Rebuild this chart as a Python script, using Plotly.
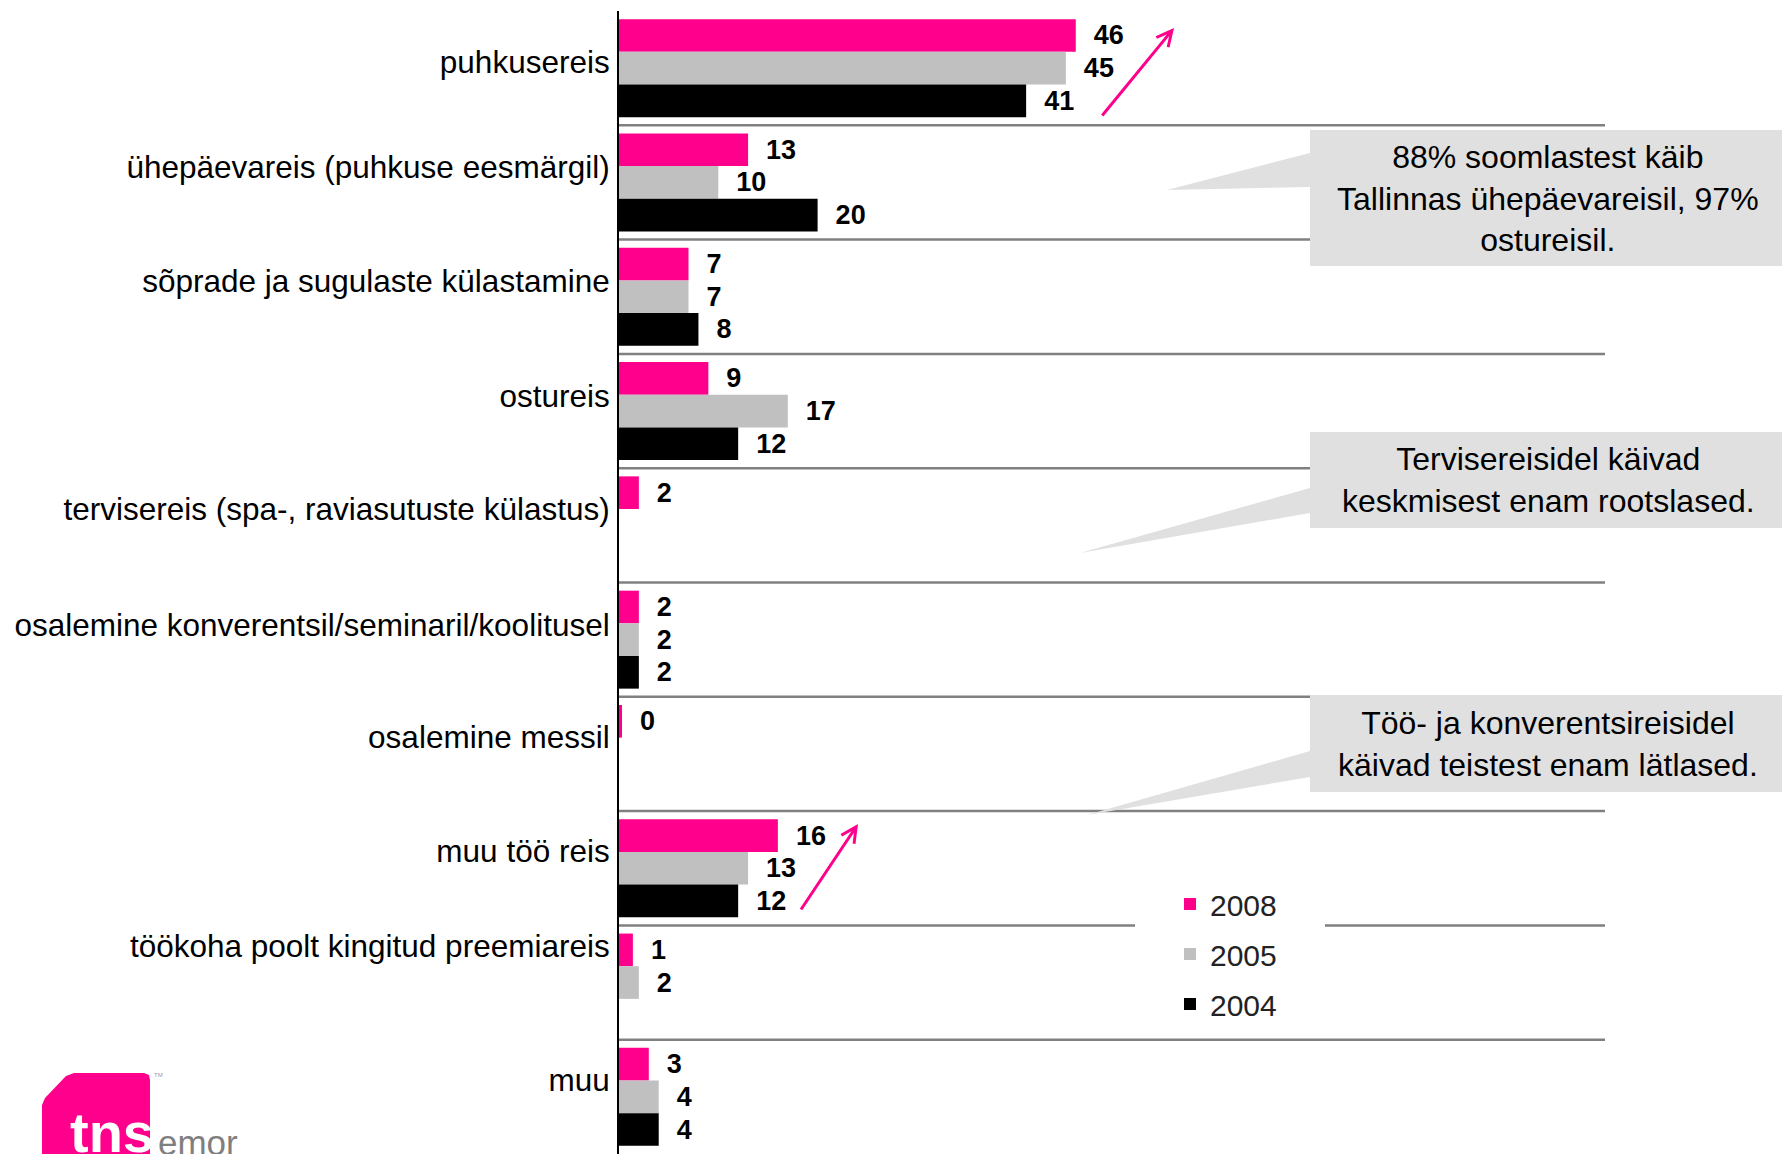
import plotly.graph_objects as go

# reisi eesmärk, % vastanutest
categories = [
    "puhkusereis",
    "ühepäevareis (puhkuse eesmärgil)",
    "sõprade ja sugulaste külastamine",
    "ostureis",
    "tervisereis (spa-, raviasutuste külastus)",
    "osalemine konverentsil/seminaril/koolitusel",
    "osalemine messil",
    "muu töö reis",
    "töökoha poolt kingitud preemiareis",
    "muu",
]
v2008 = [46, 13, 7, 9, 2, 2, 0.3, 16, 1.4, 3]
v2005 = [45, 10, 7, 17, None, 2, None, 13, 2, 4]
v2004 = [41, 20, 8, 12, None, 2, None, 12, None, 4]
years = ["2008", "2005", "2004"]
series = [v2008, v2005, v2004]
colors = ["#FF008C", "#C0C0C0", "#000000"]

notes = [
    "88% soomlastest käib<br>Tallinnas ühepäevareisil, 97%<br>ostureisil.",
    "Tervisereisidel käivad<br>keskmisest enam rootslased.",
    "Töö- ja konverentsireisidel<br>käivad teistest enam lätlased.",
]

W, H = 1782, 1154
LEFT, RIGHT, TOP, BOTTOM = 619, 1612, 11, 1154       # plot area in page pixels
ML, MR, MT, MB = LEFT, W - RIGHT, TOP, H - BOTTOM
PW = RIGHT - LEFT
PH = BOTTOM - TOP
pitch = PH / len(categories)

FONT = "Liberation Sans, Arial, sans-serif"
PINK = "#FF008C"


def px(x):
    return (x - LEFT) / PW


def py(y):
    return (BOTTOM - y) / PH


def path(points):
    return "M" + " L".join(f"{px(x):.5f},{py(y):.5f}" for x, y in points) + " Z"


# labels sit a little above the middle of each group (as in the original slide)
label_lift = [6, 15, 16, 15, 16, 15, 17, 17, 37, 17]
tickvals = [i - label_lift[i] / pitch for i in range(len(categories))]

fig = go.Figure()
for name, vals, col in zip(years, series, colors):
    fig.add_trace(go.Bar(
        y=list(range(len(categories))), x=vals, orientation="h",
        name=name, legendgroup=name, marker=dict(color=col, line_width=0),
        texttemplate="\u00a0\u00a0%{x:.0f}", textposition="outside",
        textfont=dict(family=FONT, size=27, color="black", weight="bold"),
        constraintext="none", cliponaxis=False,
    ))

shapes = []
# separators between the categories
for i in range(len(categories) - 1):
    shapes.append(dict(type="line", xref="paper", yref="y", x0=0, x1=px(1605),
                       y0=i + 0.5, y1=i + 0.5, line=dict(color="#808080", width=2.5),
                       layer="below"))
# gap in the separator behind the legend
shapes.append(dict(type="rect", xref="paper", yref="paper", x0=px(1135), x1=px(1325),
                   y0=py(960), y1=py(900), fillcolor="white", line_width=0, layer="above"))

# callouts: box + wedge pointing left
callouts = [
    [(1310, 130), (1790, 130), (1790, 266), (1310, 266), (1310, 187), (1167, 190), (1310, 153)],
    [(1310, 432), (1790, 432), (1790, 528), (1310, 528), (1310, 513), (1080, 553), (1310, 488)],
    [(1310, 695), (1790, 695), (1790, 792), (1310, 792), (1310, 777), (1087, 815), (1310, 751)],
]
for pts in callouts:
    shapes.append(dict(type="path", xref="paper", yref="paper", path=path(pts),
                       fillcolor="#E0E0E0", line_width=0, layer="above"))

# logo
logo = [(42, 1170), (42, 1105), (45, 1098), (66, 1076), (74, 1073), (144, 1073),
        (149, 1075), (150, 1080), (150, 1170)]
shapes.append(dict(type="path", xref="paper", yref="paper", path=path(logo),
                   fillcolor=PINK, line_width=0, layer="above"))

annotations = []
for txt, cy in zip(notes, [198, 480, 744]):
    annotations.append(dict(xref="paper", yref="paper", x=px(1548), y=py(cy), text=txt,
                            showarrow=False, xanchor="center", yanchor="middle", align="center",
                            font=dict(family=FONT, size=32, color="black")))

# trend arrows
for (x0, y0), (x1, y1) in [((1101, 117), (1174, 28)), ((800, 911), (858, 824))]:
    annotations.append(dict(xref="paper", yref="paper", x=px(x1), y=py(y1),
                            ax=x0 - x1, ay=y0 - y1, text="", showarrow=True,
                            arrowhead=5, arrowwidth=3, arrowsize=1, arrowcolor=PINK,
                            standoff=0, startstandoff=0))

annotations += [
    dict(xref="paper", yref="paper", x=px(68), y=py(1099), text="<b>tns</b>",
         showarrow=False, xanchor="left", yanchor="top",
         font=dict(family=FONT, size=56, color="white")),
    dict(xref="paper", yref="paper", x=px(156), y=py(1121), text="emor",
         showarrow=False, xanchor="left", yanchor="top",
         font=dict(family=FONT, size=35, color="#7F7F7F")),
    dict(xref="paper", yref="paper", x=px(152), y=py(1070), text="TM",
         showarrow=False, xanchor="left", yanchor="top",
         font=dict(family=FONT, size=6, color="#999999")),
    dict(xref="paper", yref="paper", x=px(931), y=py(1146), text="11",
         showarrow=False, xanchor="center", yanchor="top",
         font=dict(family=FONT, size=26, color="#333333")),
]

fig.update_layout(
    template="none",
    width=W, height=H,
    margin=dict(l=ML, r=MR, t=MT, b=MB, pad=0),
    paper_bgcolor="white", plot_bgcolor="white",
    barmode="group", bargap=0.143, bargroupgap=0,
    font=dict(family=FONT, color="black"),
    xaxis=dict(range=[0, 100], visible=False, fixedrange=True),
    yaxis=dict(range=[len(categories) - 0.5, -0.5], tickmode="array",
               tickvals=tickvals, ticktext=categories, ticks="",
               ticklabelstandoff=1, tickfont=dict(family=FONT, size=31.5, color="black"),
               showgrid=False, zeroline=False, showline=True, linecolor="black",
               linewidth=2, automargin=False, fixedrange=True),
    legend=dict(x=px(1170), y=py(878), xanchor="left", yanchor="top",
                bgcolor="white", borderwidth=0, traceorder="grouped",
                tracegroupgap=8, font=dict(family=FONT, size=30, color="#222222")),
    shapes=shapes,
    annotations=annotations,
)

# no body margin, so the figure fills the window exactly
fig.write_html("out.html", config={"displayModeBar": False},
               post_script="document.body.style.margin = '0';")
